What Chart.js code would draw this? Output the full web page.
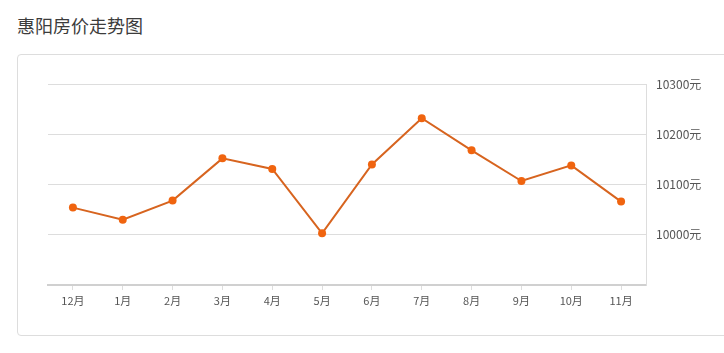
<!DOCTYPE html>
<html>
<head>
<meta charset="utf-8">
<script src="https://cdn.jsdelivr.net/npm/chart.js@4"></script>
<style>
  body { margin: 0; background: #fff; width: 724px; height: 353px; overflow: hidden; position: relative; }
  .title { position: absolute; left: 17px; top: 12px; font: 18px "Noto Sans CJK SC", sans-serif; color: #3c3c3c; }
  .card { position: absolute; left: 17px; top: 54px; width: 720px; height: 280px; border: 1px solid #ddd; border-radius: 4px; }
  .wrap { position: absolute; left: 18px; top: 55px; width: 706px; height: 279px; }
</style>
</head>
<body>
<div class="title">惠阳房价走势图</div>
<div class="card"></div>
<div class="wrap"><canvas id="myChart"></canvas></div>
<script>
// data
var months = ['12月', '1月', '2月', '3月', '4月', '5月', '6月', '7月', '8月', '9月', '10月', '11月'];
var prices = [10054, 10030, 10068, 10152, 10131, 10003, 10140, 10232, 10168, 10107, 10138, 10066];
var yTicks = [9900, 10000, 10100, 10200, 10300];

var ctx = document.getElementById('myChart').getContext('2d');

var myChart = new Chart(ctx, {
    type: 'line',
    data: {
        labels: months,
        datasets: [{
            data: prices,
            borderColor: '#d7641f',
            borderWidth: 2,
            pointBackgroundColor: '#f0640f',
            pointBorderColor: '#f0640f',
            pointRadius: 4,
            pointBorderWidth: 0,
            tension: 0
        }]
    },
    options: {
        responsive: true,
        maintainAspectRatio: false,
        animation: false,
        plugins: {
            legend: { display: false },
            tooltip: { enabled: false }
        },
        layout: {
            padding: { left: 30, top: 29, right: 0, bottom: 0 }
        },
        scales: {
            x: {
                offset: true,
                grid: {
                    drawOnChartArea: false,
                    tickLength: 5,
                    color: '#ddd'
                },
                border: { color: '#d0d0d0', width: 2 },
                ticks: {
                    padding: 4,
                    color: '#555',
                    font: { size: 11, family: '"Noto Sans CJK SC", sans-serif' }
                },
                afterFit: function (axis) { axis.height = 49; }
            },
            y: {
                position: 'right',
                min: yTicks[0],
                max: yTicks[yTicks.length - 1],
                afterBuildTicks: function (axis) {
                    axis.ticks = yTicks.map(function (v) { return { value: v }; });
                },
                grid: {
                    color: '#ddd',
                    tickLength: 0
                },
                border: { color: '#ddd' },
                ticks: {
                    padding: 10,
                    color: '#555',
                    font: { size: 12, family: '"Noto Sans CJK SC", sans-serif' },
                    callback: function (value) {
                        return value === yTicks[0] ? '' : value + '元';
                    }
                },
                afterFit: function (axis) { axis.width = 78; }
            }
        }
    }
});
</script>
</body>
</html>
